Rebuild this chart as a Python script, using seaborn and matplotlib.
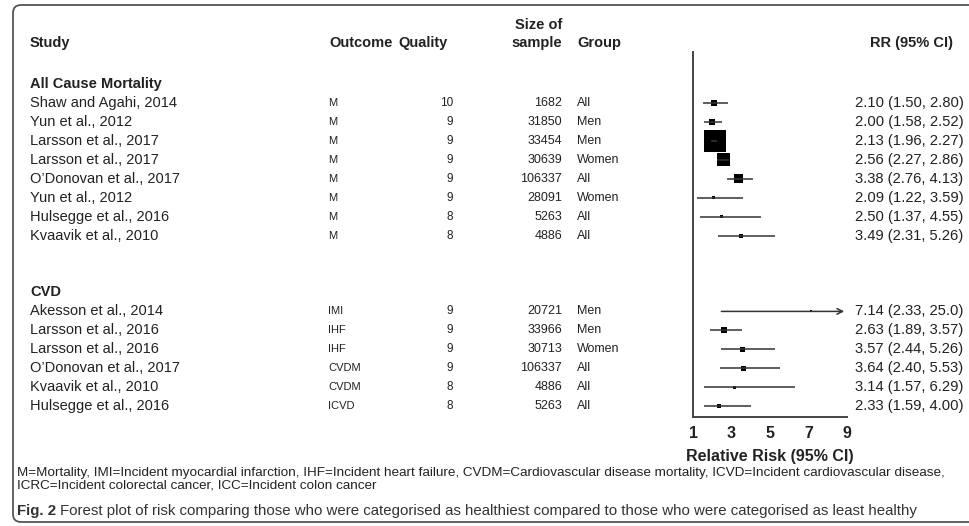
import numpy as np
import pandas as pd
import matplotlib
matplotlib.use("Agg")
import matplotlib.pyplot as plt
from matplotlib.patches import FancyBboxPatch
import seaborn as sns

# ---- data ----
sections = ["All Cause Mortality", "CVD"]
section_of = ["All Cause Mortality"] * 8 + ["CVD"] * 6
studies = ["Shaw and Agahi, 2014", "Yun et al., 2012", "Larsson et al., 2017",
           "Larsson et al., 2017", "O\u2019Donovan et al., 2017", "Yun et al., 2012",
           "Hulsegge et al., 2016", "Kvaavik et al., 2010",
           "Akesson et al., 2014", "Larsson et al., 2016", "Larsson et al., 2016",
           "O\u2019Donovan et al., 2017", "Kvaavik et al., 2010", "Hulsegge et al., 2016"]
outcomes = ["M", "M", "M", "M", "M", "M", "M", "M",
            "IMI", "IHF", "IHF", "CVDM", "CVDM", "ICVD"]
quality = [10, 9, 9, 9, 9, 9, 8, 8, 9, 9, 9, 9, 8, 8]
sample_size = [1682, 31850, 33454, 30639, 106337, 28091, 5263, 4886,
               20721, 33966, 30713, 106337, 4886, 5263]
groups = ["All", "Men", "Men", "Women", "All", "Women", "All", "All",
          "Men", "Men", "Women", "All", "All", "All"]
rr = [2.10, 2.00, 2.13, 2.56, 3.38, 2.09, 2.50, 3.49,
      7.14, 2.63, 3.57, 3.64, 3.14, 2.33]
ci_low = [1.50, 1.58, 1.96, 2.27, 2.76, 1.22, 1.37, 2.31,
          2.33, 1.89, 2.44, 2.40, 1.57, 1.59]
ci_high = [2.80, 2.52, 2.27, 2.86, 4.13, 3.59, 4.55, 5.26,
           25.0, 3.57, 5.26, 5.53, 6.29, 4.00]
# relative study weight (box side, px)
weight = [6, 6, 22, 13, 9, 3, 3, 4, 2, 6, 5, 5, 3, 4]
x_ticks = [1, 3, 5, 7, 9]

df = pd.DataFrame({"section": section_of, "study": studies, "outcome": outcomes,
                   "quality": quality, "n": sample_size, "group": groups,
                   "rr": rr, "lo": ci_low, "hi": ci_high, "weight": weight})

# rows: section header, its studies, then two blank rows
rows, header_rows, r = [], {}, 0
for s in sections:
    header_rows[s] = r
    r += 1
    for _ in range((df.section == s).sum()):
        rows.append(r)
        r += 1
    r += 2
df["row"] = rows

# ---- layout (pixels of the 969x526 canvas) ----
W, H = 969, 526
ROW0, STEP = 84, 18.95
def ypix(row):
    return ROW0 + STEP * row

txt = "#222222"
sns.set_style("white")
plt.rcParams["font.family"] = ["Liberation Sans", "DejaVu Sans"]

fig = plt.figure(figsize=(W / 100, H / 100), dpi=100)
bg = fig.add_axes([0, 0, 1, 1])
bg.set_xlim(0, W)
bg.set_ylim(H, 0)
bg.axis("off")

# rounded frame
bg.add_patch(FancyBboxPatch((13, 5), 1000, 517, boxstyle="round,pad=0,rounding_size=8",
                            fill=False, ec="#555555", lw=1.3, clip_on=False))

# column headers
hdr = dict(fontsize=10.5, fontweight="bold", color=txt, va="center")
bg.text(30, 43, "Study", ha="left", **hdr)
bg.text(329, 43, "Outcome", ha="left", **hdr)
bg.text(398, 43, "Quality", ha="left", **hdr)
bg.text(562, 25, "Size of", ha="right", **hdr)
bg.text(562, 43, "sample", ha="right", **hdr)
bg.text(577, 43, "Group", ha="left", **hdr)
bg.text(953, 43, "RR (95% CI)", ha="right", **hdr)

for s in sections:
    bg.text(30, ypix(header_rows[s]), s, ha="left", **hdr)

for _, d in df.iterrows():
    y = ypix(d.row)
    bg.text(30, y, d.study, ha="left", va="center", fontsize=10.5, color=txt)
    bg.text(328, y, d.outcome, ha="left", va="center", fontsize=8, color=txt)
    bg.text(453, y, str(d.quality), ha="right", va="center", fontsize=8.5, color=txt)
    bg.text(562, y, str(d.n), ha="right", va="center", fontsize=9, color=txt)
    bg.text(577, y, d.group, ha="left", va="center", fontsize=9, color=txt)
    bg.text(855, y, f"{d.rr:.2f} ({d.lo:.2f}, {d.hi:.2f})" if d.hi < 10
            else f"{d.rr:.2f} ({d.lo:.2f}, {d.hi:.1f})",
            ha="left", va="center", fontsize=10.6, color=txt)

# ---- forest panel ----
X0, X1, YT, YB = 693, 847, 52, 417
ax = fig.add_axes([X0 / W, 1 - YB / H, (X1 - X0) / W, (YB - YT) / H])
ax.set_xlim(x_ticks[0], x_ticks[-1])
ax.set_ylim((YB - ROW0) / STEP, (YT - ROW0) / STEP)
ax.patch.set_alpha(0)

inside = df[df.hi <= x_ticks[-1]]
ax.hlines(inside.row, inside.lo, inside.hi, color="#333333", lw=1.1)
for _, d in df[df.hi > x_ticks[-1]].iterrows():
    ax.annotate("", xy=(x_ticks[-1], d.row), xytext=(d.lo, d.row),
                arrowprops=dict(arrowstyle="->", color="#333333", lw=1.1),
                annotation_clip=False)

df["area"] = (df.weight * 0.72) ** 2
sns.scatterplot(data=df, x="rr", y="row", size="area",
                sizes=(df.area.min(), df.area.max()), marker="s",
                color="black", edgecolor="none", legend=False, ax=ax)

ax.set_xticks(x_ticks)
ax.set_xticklabels([str(t) for t in x_ticks], fontsize=11.5, fontweight="bold", color=txt)
ax.set_yticks([])
ax.set_xlabel("")
ax.set_ylabel("")
for side in ["top", "right"]:
    ax.spines[side].set_visible(False)
for side in ["left", "bottom"]:
    ax.spines[side].set_color("#444444")
    ax.spines[side].set_linewidth(1.4)
ax.tick_params(axis="x", direction="inout", length=5, width=1.2, color="#444444", pad=4)

bg.text(770, 457, "Relative Risk (95% CI)", ha="center", va="center",
        fontsize=11.5, fontweight="bold", color=txt)

# footnote and caption
foot = dict(fontsize=9.7, color=txt, va="center", ha="left")
bg.text(17, 473, "M=Mortality, IMI=Incident myocardial infarction, IHF=Incident heart failure, "
        "CVDM=Cardiovascular disease mortality, ICVD=Incident cardiovascular disease,", **foot)
bg.text(17, 485, "ICRC=Incident colorectal cancer, ICC=Incident colon cancer", **foot)

cap = dict(fontsize=10.8, color="#333333", va="center", ha="left")
t = bg.text(17, 511, "Fig. 2", fontweight="bold", **cap)
fig.canvas.draw()
bb = t.get_window_extent()
bg.text(17 + bb.width + 4, 511, "Forest plot of risk comparing those who were categorised as "
        "healthiest compared to those who were categorised as least healthy", **cap)

fig.savefig("out.png", dpi=100)
